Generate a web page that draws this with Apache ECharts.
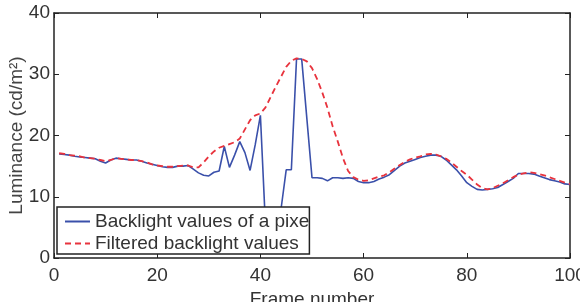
<!DOCTYPE html>
<html>
<head>
<meta charset="utf-8">
<script src="https://cdn.jsdelivr.net/npm/echarts@6/dist/echarts.min.js"></script>
<style>
  html, body { margin: 0; padding: 0; background: #fff; }
  #chart { width: 580px; height: 302px; }
</style>
</head>
<body>
<div id="chart"></div>
<script>
  // luminance per frame, frames 1..100
  const backlight = [
    17.0, 16.9, 16.8, 16.6, 16.5, 16.4, 16.3, 16.2, 15.8, 15.5,
    16.0, 16.3, 16.2, 16.1, 16.0, 16.0, 15.8, 15.5, 15.3, 15.1,
    14.9, 14.8, 14.8, 15.0, 15.0, 15.1, 14.5, 13.9, 13.5, 13.4,
    14.0, 14.2, 18.2, 14.8, 16.8, 19.0, 17.2, 14.3, 18.5, 23.3,
    5.0, 2.0, 2.0, 8.0, 14.4, 14.4, 32.5, 32.5, 22.8, 13.1,
    13.1, 13.0, 12.6, 13.1, 13.1, 13.0, 13.1, 13.0, 12.5, 12.3,
    12.3, 12.5, 12.9, 13.2, 13.6, 14.3, 15.0, 15.5, 15.8, 16.1,
    16.4, 16.6, 16.8, 16.8, 16.6, 16.0, 15.2, 14.4, 13.4, 12.3,
    11.7, 11.2, 11.1, 11.2, 11.3, 11.5, 12.0, 12.5, 13.0, 13.8,
    13.8, 13.8, 13.7, 13.4, 13.1, 12.8, 12.6, 12.4, 12.1, 12.0
  ]
  const filtered = [
    17.1, 17.0, 16.8, 16.7, 16.6, 16.4, 16.3, 16.2, 16.0, 15.8,
    16.0, 16.3, 16.2, 16.1, 16.0, 16.0, 15.8, 15.6, 15.3, 15.1,
    15.0, 14.9, 14.9, 15.0, 15.1, 15.1, 14.8, 14.8, 15.6, 16.6,
    17.4, 18.0, 18.3, 18.6, 18.9, 19.5, 21.0, 22.5, 23.3, 23.6,
    24.6, 26.3, 28.0, 29.6, 31.2, 32.2, 32.6, 32.5, 32.1, 31.0,
    29.2, 27.0, 24.5, 21.5, 19.0, 16.3, 14.2, 13.2, 12.8, 12.6,
    12.7, 13.0, 13.3, 13.5, 14.0, 14.6, 15.2, 15.7, 16.1, 16.4,
    16.6, 16.9, 17.0, 16.9, 16.6, 16.2, 15.6, 14.9, 14.2, 13.6,
    12.8, 12.0, 11.4, 11.2, 11.4, 11.8, 12.2, 12.7, 13.2, 13.6,
    13.8, 14.0, 13.9, 13.7, 13.5, 13.2, 12.9, 12.6, 12.3, 12.1
  ]
  const xTicks = [0, 20, 40, 60, 80, 100]
  const yTicks = [0, 10, 20, 30, 40]

  const toPairs = arr => arr.map((v, i) => [i + 1, v])

  const font = 'Liberation Sans, Arial, sans-serif'
  const ink = '#333'

  const chart = echarts.init(document.getElementById('chart'), null, {renderer: 'canvas'})

  const axisLine = {show: true, onZero: false, lineStyle: {color: '#222', width: 1.5}}
  const axisTick = {show: true, inside: true, length: 5, lineStyle: {color: '#222', width: 1}}

  chart.setOption({
    animation: false,
    grid: {left: 54, right: 10, top: 13, bottom: 44, containLabel: false, outerBoundsMode: 'none'},
    legend: {
      left: 57,
      top: 207,
      orient: 'vertical',
      itemWidth: 25,
      itemHeight: 12,
      itemGap: 3,
      padding: [5, 0, 1, 7],
      backgroundColor: '#fff',
      borderColor: '#222',
      borderWidth: 1.5,
      itemStyle: {opacity: 0},
      textStyle: {
        fontFamily: font, fontSize: 19, color: ink,
        width: 219, overflow: 'truncate', ellipsis: ''
      },
      data: ['Backlight values of a pixel', 'Filtered backlight values']
    },
    xAxis: [{
      type: 'value',
      min: xTicks[0], max: xTicks[xTicks.length - 1], interval: 20,
      name: 'Frame number', nameLocation: 'middle', nameGap: 31,
      nameTextStyle: {fontFamily: font, fontSize: 19, color: ink},
      axisLine, axisTick,
      axisLabel: {fontFamily: font, fontSize: 19, color: ink, margin: 8},
      splitLine: {show: false}
    }, {
      type: 'value', position: 'top',
      min: xTicks[0], max: xTicks[xTicks.length - 1], interval: 20,
      axisLine, axisTick, axisLabel: {show: false}, splitLine: {show: false}
    }],
    yAxis: [{
      type: 'value',
      min: yTicks[0], max: yTicks[yTicks.length - 1], interval: 10,
      name: 'Luminance (cd/m²)', nameLocation: 'middle', nameGap: 28,
      nameMoveOverlap: false,
      nameTextStyle: {fontFamily: font, fontSize: 19, color: '#444'},
      axisLine, axisTick,
      axisLabel: {fontFamily: font, fontSize: 19, color: ink, margin: 4},
      splitLine: {show: false}
    }, {
      type: 'value', position: 'right',
      min: yTicks[0], max: yTicks[yTicks.length - 1], interval: 10,
      axisLine, axisTick, axisLabel: {show: false}, splitLine: {show: false}
    }],
    series: [{
      name: 'Backlight values of a pixel',
      type: 'line',
      data: toPairs(backlight),
      showSymbol: false,
      symbol: 'none',
      color: '#3a50aa',
      lineStyle: {color: '#3a50aa', width: 1.6}
    }, {
      name: 'Filtered backlight values',
      type: 'line',
      data: toPairs(filtered),
      showSymbol: false,
      symbol: 'none',
      color: '#e8333d',
      lineStyle: {color: '#e8333d', width: 1.8, type: [6, 4]}
    }]
  })
</script>
</body>
</html>
